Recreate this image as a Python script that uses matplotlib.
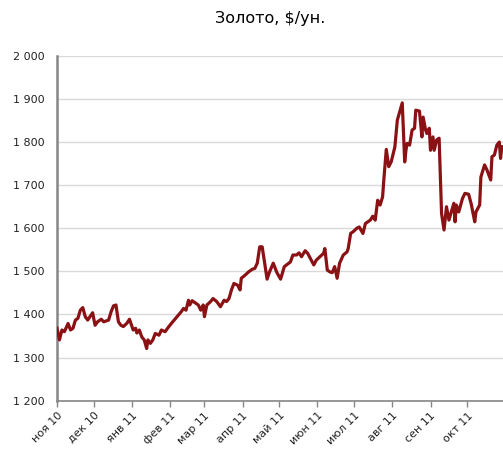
import matplotlib
matplotlib.use("Agg")
import matplotlib.pyplot as plt
import matplotlib.dates as mdates
import matplotlib.ticker as mticker
import pandas as pd

# gold price
dates = [
    "2010-11-01", "2010-11-03", "2010-11-05", "2010-11-07", "2010-11-10", "2010-11-12",
    "2010-11-14", "2010-11-16", "2010-11-18", "2010-11-20", "2010-11-22", "2010-11-24",
    "2010-11-26", "2010-11-30",
    "2010-12-02", "2010-12-04", "2010-12-07", "2010-12-09", "2010-12-13", "2010-12-15",
    "2010-12-17", "2010-12-19", "2010-12-21", "2010-12-23", "2010-12-25", "2010-12-28",
    "2010-12-30",
    "2011-01-02", "2011-01-04", "2011-01-05", "2011-01-07", "2011-01-09", "2011-01-11",
    "2011-01-13", "2011-01-14", "2011-01-16", "2011-01-18", "2011-01-20", "2011-01-23",
    "2011-01-25", "2011-01-28", "2011-01-30",
    "2011-02-02", "2011-02-05", "2011-02-08", "2011-02-10", "2011-02-12", "2011-02-14",
    "2011-02-16", "2011-02-17", "2011-02-19", "2011-02-22", "2011-02-24", "2011-02-26",
    "2011-02-28",
    "2011-03-01", "2011-03-03", "2011-03-06", "2011-03-08", "2011-03-11", "2011-03-14",
    "2011-03-17", "2011-03-19", "2011-03-21", "2011-03-23", "2011-03-25", "2011-03-28",
    "2011-03-30", "2011-03-31",
    "2011-04-03", "2011-04-06", "2011-04-09", "2011-04-11", "2011-04-13", "2011-04-15",
    "2011-04-17", "2011-04-21", "2011-04-23", "2011-04-26", "2011-04-29",
    "2011-05-02", "2011-05-05", "2011-05-10", "2011-05-12", "2011-05-15", "2011-05-17",
    "2011-05-19", "2011-05-22", "2011-05-24", "2011-05-27", "2011-05-29", "2011-05-31",
    "2011-06-03", "2011-06-06", "2011-06-07", "2011-06-09", "2011-06-11", "2011-06-13",
    "2011-06-15", "2011-06-17", "2011-06-19", "2011-06-22", "2011-06-25", "2011-06-26",
    "2011-06-28", "2011-06-30",
    "2011-07-03", "2011-07-05", "2011-07-08", "2011-07-10", "2011-07-14", "2011-07-16",
    "2011-07-18", "2011-07-20", "2011-07-22", "2011-07-24", "2011-07-25", "2011-07-27",
    "2011-07-29", "2011-07-31",
    "2011-08-03", "2011-08-05", "2011-08-09", "2011-08-11", "2011-08-12", "2011-08-13",
    "2011-08-15", "2011-08-17", "2011-08-19", "2011-08-20", "2011-08-23", "2011-08-25",
    "2011-08-26", "2011-08-28", "2011-08-29", "2011-08-31",
    "2011-09-01", "2011-09-03", "2011-09-04", "2011-09-06", "2011-09-08", "2011-09-10",
    "2011-09-12", "2011-09-14", "2011-09-16", "2011-09-20", "2011-09-21", "2011-09-22",
    "2011-09-24", "2011-09-27", "2011-09-29",
    "2011-10-02", "2011-10-04", "2011-10-07", "2011-10-08", "2011-10-11", "2011-10-12",
    "2011-10-15", "2011-10-17", "2011-10-20", "2011-10-21", "2011-10-23", "2011-10-25",
    "2011-10-27", "2011-10-28", "2011-10-29",
]
prices = [
    1368, 1341, 1364, 1360, 1379, 1364,
    1368, 1387, 1391, 1410, 1416, 1395,
    1387, 1404,
    1375, 1383, 1389, 1383, 1387, 1406,
    1420, 1422, 1383, 1375, 1372, 1380,
    1389,
    1364, 1368, 1357, 1364, 1348, 1341,
    1321, 1341, 1333, 1341, 1356, 1352,
    1364, 1360, 1368,
    1379, 1389, 1399, 1406, 1414, 1410,
    1433, 1422, 1432, 1426, 1422, 1410,
    1422,
    1395, 1422, 1430, 1437, 1430, 1418,
    1433, 1430, 1437, 1457, 1472, 1468,
    1457, 1484,
    1491, 1499, 1505, 1507, 1519, 1557,
    1557, 1482, 1499, 1519, 1497,
    1482, 1511, 1522, 1538, 1538, 1543,
    1534, 1548, 1542, 1526, 1515, 1526,
    1534, 1542, 1553, 1503, 1499, 1497,
    1511, 1484, 1519, 1538, 1545, 1553,
    1588, 1592,
    1600, 1603, 1588, 1611, 1619, 1628,
    1619, 1665, 1654, 1673, 1712, 1783,
    1743, 1754,
    1789, 1851, 1891, 1754, 1781, 1797,
    1793, 1828, 1832, 1874, 1872, 1812,
    1858, 1828, 1820, 1832,
    1781, 1812, 1781, 1805, 1809, 1634,
    1596, 1650, 1619, 1658, 1615, 1654,
    1638, 1669, 1681,
    1679, 1658, 1615, 1638, 1654, 1719,
    1747, 1735, 1712, 1766, 1770, 1793,
    1800, 1762, 1789,
]
month_labels = ["ноя 10", "дек 10", "янв 11", "фев 11", "мар 11", "апр 11",
                "май 11", "июн 11", "июл 11", "авг 11", "сен 11", "окт 11"]
month_starts = pd.date_range("2010-11-01", periods=len(month_labels), freq="MS")
y_ticks = [1200, 1300, 1400, 1500, 1600, 1700, 1800, 1900, 2000]

plt.rcParams["font.family"] = ["DejaVu Sans"]

fig = plt.figure(figsize=(5.03, 4.5), dpi=100)
ax = fig.add_axes([0.1133, 0.1096, 0.8867, 0.7662])

ax.plot(pd.to_datetime(dates), prices, color="#8b1214", linewidth=2.3,
        solid_joinstyle="round", zorder=3)

ax.set_ylim(1200, 2000)
ax.set_yticks(y_ticks)
ax.yaxis.set_major_formatter(mticker.FuncFormatter(lambda v, _: f"{v:,.0f}".replace(",", " ")))
ax.grid(axis="y", color="#d9d9d9", linewidth=1)
ax.set_axisbelow(True)

ax.set_xlim(pd.Timestamp("2010-11-01"), pd.Timestamp("2011-10-30"))
ax.set_xticks(mdates.date2num(month_starts))
ax.set_xticklabels(month_labels, rotation=45, ha="right", rotation_mode="anchor")

for side in ["top", "right"]:
    ax.spines[side].set_visible(False)
ax.spines["left"].set_color("#868686")
ax.spines["left"].set_linewidth(1.8)
ax.spines["bottom"].set_color("#868686")
ax.spines["bottom"].set_linewidth(1.2)

ax.tick_params(axis="y", length=0, labelsize=8, pad=9, colors="#222222")
ax.tick_params(axis="x", length=4, width=1, color="#868686", labelsize=8,
               labelcolor="#222222", pad=3)

fig.text(0.537, 0.96, "Золото, $/ун.", ha="center", va="center", fontsize=11.5)

fig.savefig("out.png", dpi=100)
plt.close(fig)
